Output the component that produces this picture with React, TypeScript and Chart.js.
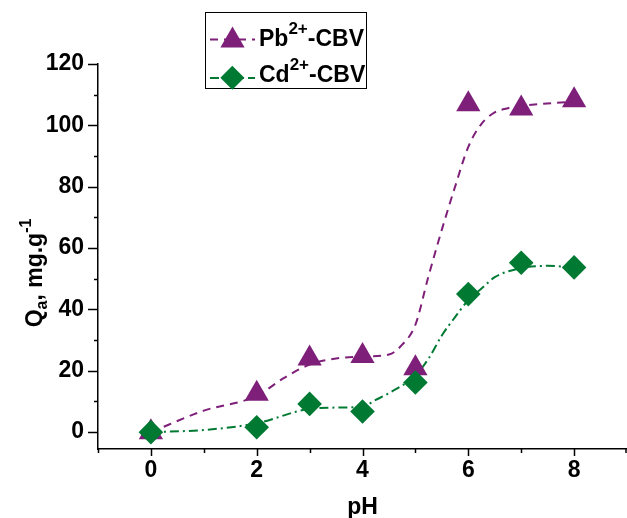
import React, { useEffect, useRef } from 'react';
import { Chart, registerables } from 'chart.js';

Chart.register(...registerables);

// ---- data ----
const phValues = [0, 2, 3, 4, 5, 6, 7, 8];
const pbValues = [0, 12.5, 24, 24.8, 20.8, 106.9, 105.5, 108.2];
const cdValues = [0, 1.6, 9.2, 6.7, 16.2, 45, 55.2, 53.7];

// smoothed guide curves as drawn in the reference
const pbCurveX = [0, 1, 2, 2.5, 3, 3.5, 4, 4.5, 4.75, 5, 5.25, 5.5, 5.75, 6, 6.25, 6.5, 6.75, 7, 8];
const pbCurveY = [0, 7, 11.8, 17.5, 22, 24, 24.6, 25.3, 28.5, 35, 51, 66, 80, 93, 100.5, 104.2, 105.6, 106.3, 107.8];
const cdCurveX = [0, 1, 2, 3, 3.5, 4, 4.25, 4.5, 5, 5.25, 5.5, 5.75, 6, 6.25, 6.5, 7, 7.5, 8];
const cdCurveY = [0, 0.7, 2.9, 7.6, 8, 8.3, 10.5, 12.7, 18.5, 24, 31.5, 37.5, 43, 46.8, 50.5, 53.5, 54.2, 53.7];

// axis ticks
const xTickValues = [-1, 0, 1, 2, 3, 4, 5, 6, 7, 8, 9];
const xLabelledTicks = [0, 2, 4, 6, 8];
const yTickValues = [0, 10, 20, 30, 40, 50, 60, 70, 80, 90, 100, 110, 120];
const yLabelledTicks = [0, 20, 40, 60, 80, 100, 120];

const seriesIons = ['Pb', 'Cd'];
const ionCharge = '2+';
const seriesSuffix = '-CBV';
const xTitle = 'pH';
const yTitleParts = ['Q', 'a', ', mg.g', '-1'];

const PURPLE = '#7E1F79';
const GREEN = '#007A33';
const FONT = "'Liberation Sans', Arial, sans-serif";
const PB_DASH = [8, 6];
const CD_DASH = [9, 4, 2, 4];

function toPoints(xs: number[], ys: number[]) {
  return xs.map((x, i) => ({ x, y: ys[i] }));
}

type Part = { text: string; size: number; dy: number };

function richWidth(ctx: CanvasRenderingContext2D, parts: Part[]) {
  let w = 0;
  for (const p of parts) {
    ctx.font = `bold ${p.size}px ${FONT}`;
    w += ctx.measureText(p.text).width;
  }
  return w;
}

function drawRich(ctx: CanvasRenderingContext2D, parts: Part[], x: number, y: number) {
  let cx = x;
  for (const p of parts) {
    ctx.font = `bold ${p.size}px ${FONT}`;
    ctx.fillText(p.text, cx, y + p.dy);
    cx += ctx.measureText(p.text).width;
  }
}

function triangle(ctx: CanvasRenderingContext2D, x: number, y: number, r: number) {
  ctx.beginPath();
  ctx.moveTo(x, y - r);
  ctx.lineTo(x + r * Math.sin((2 * Math.PI) / 3), y + r / 2);
  ctx.lineTo(x - r * Math.sin((2 * Math.PI) / 3), y + r / 2);
  ctx.closePath();
  ctx.fill();
}

function diamond(ctx: CanvasRenderingContext2D, x: number, y: number, r: number) {
  ctx.beginPath();
  ctx.moveTo(x - r, y);
  ctx.lineTo(x, y - r);
  ctx.lineTo(x + r, y);
  ctx.lineTo(x, y + r);
  ctx.closePath();
  ctx.fill();
}

const decorPlugin = {
  id: 'decor',
  afterDraw(chart: any) {
    const ctx: CanvasRenderingContext2D = chart.ctx;
    const xs = chart.scales.x;
    const ys = chart.scales.y;
    const area = chart.chartArea;
    ctx.save();
    ctx.strokeStyle = '#000';
    ctx.lineWidth = 1.5;
    ctx.fillStyle = '#000';
    // x tick marks (major at labelled, minor otherwise) and labels
    for (const t of xs.ticks) {
      const v = t.value;
      const px = Math.min(Math.round(xs.getPixelForValue(v)) + 0.5, area.right - 1);
      const major = xLabelledTicks.includes(v);
      ctx.beginPath();
      ctx.moveTo(px, area.bottom);
      ctx.lineTo(px, area.bottom + (major ? 7 : 4));
      ctx.stroke();
      if (major) {
        ctx.font = `bold 23px ${FONT}`;
        ctx.textAlign = 'center';
        ctx.textBaseline = 'alphabetic';
        ctx.fillText(String(v), xs.getPixelForValue(v), 477);
      }
    }
    // y tick marks
    for (const t of ys.ticks) {
      const v = t.value;
      const py = Math.round(ys.getPixelForValue(v)) + 0.5;
      const len = yLabelledTicks.includes(v) ? 10 : 4;
      ctx.beginPath();
      ctx.moveTo(area.left, py);
      ctx.lineTo(area.left - len, py);
      ctx.stroke();
    }

    ctx.textBaseline = 'alphabetic';
    ctx.textAlign = 'left';

    // x title
    const xt: Part[] = [{ text: xTitle, size: 23, dy: 0 }];
    const xw = richWidth(ctx, xt);
    drawRich(ctx, xt, (area.left + area.right) / 2 - xw / 2, 514);

    // y title (rotated)
    const yt: Part[] = [
      { text: yTitleParts[0], size: 23, dy: 0 },
      { text: yTitleParts[1], size: 16, dy: 5 },
      { text: yTitleParts[2], size: 23, dy: 0 },
      { text: yTitleParts[3], size: 16, dy: -11 },
    ];
    const yw = richWidth(ctx, yt);
    ctx.save();
    ctx.translate(41.5, 273);
    ctx.rotate(-Math.PI / 2);
    drawRich(ctx, yt, -yw / 2, 0);
    ctx.restore();

    // legend
    const bx = 205, by = 12, bw = 162, bh = 77;
    ctx.fillStyle = '#fff';
    ctx.fillRect(bx, by, bw, bh);
    ctx.lineWidth = 1;
    ctx.strokeStyle = '#000';
    ctx.strokeRect(bx + 0.5, by + 0.5, bw - 1, bh - 1);
    const rows = [
      { color: PURPLE, dash: PB_DASH, y: 40.5, line: 39.5, base: 45.5, kind: 'tri' },
      { color: GREEN, dash: CD_DASH, y: 77.7, line: 78, base: 82, kind: 'dia' },
    ];
    rows.forEach((row, i) => {
      ctx.save();
      ctx.strokeStyle = row.color;
      ctx.lineWidth = 2;
      ctx.setLineDash(row.dash);
      ctx.beginPath();
      ctx.moveTo(210, row.line);
      ctx.lineTo(255, row.line);
      ctx.stroke();
      ctx.restore();
      ctx.fillStyle = row.color;
      if (row.kind === 'tri') triangle(ctx, 232.5, row.y, 14);
      else diamond(ctx, 232.3, row.y, 12);
      ctx.fillStyle = '#000';
      const parts: Part[] = [
        { text: seriesIons[i], size: 23, dy: 0 },
        { text: ionCharge, size: 17, dy: -12 },
        { text: seriesSuffix, size: 23, dy: 0 },
      ];
      drawRich(ctx, parts, 259, row.base);
    });
    ctx.restore();
  },
};

export default function App() {
  const ref = useRef<HTMLCanvasElement | null>(null);
  useEffect(() => {
    if (!ref.current) return;
    const tickFont = { family: FONT, size: 23, weight: 'bold' as const };
    const chart = new Chart(ref.current, {
      type: 'scatter',
      data: {
        datasets: [
          {
            label: 'Cd2+-CBV',
            data: toPoints(phValues, cdValues),
            showLine: false,
            pointStyle: 'rectRot',
            pointRadius: 12.3,
            pointHoverRadius: 12.3,
            backgroundColor: GREEN,
            borderColor: GREEN,
            borderWidth: 0,
          },
          {
            label: 'Pb2+-CBV',
            data: toPoints(phValues, pbValues),
            showLine: false,
            pointStyle: 'triangle',
            pointRadius: 14,
            pointHoverRadius: 14,
            backgroundColor: PURPLE,
            borderColor: PURPLE,
            borderWidth: 0,
          },
          {
            label: 'Cd curve',
            data: toPoints(cdCurveX, cdCurveY),
            showLine: true,
            borderColor: GREEN,
            borderWidth: 2,
            borderDash: CD_DASH,
            pointRadius: 0,
            cubicInterpolationMode: 'monotone',
            fill: false,
          },
          {
            label: 'Pb curve',
            data: toPoints(pbCurveX, pbCurveY),
            showLine: true,
            borderColor: PURPLE,
            borderWidth: 2,
            borderDash: PB_DASH,
            pointRadius: 0,
            cubicInterpolationMode: 'monotone',
            fill: false,
          },
        ],
      },
      options: {
        animation: false,
        responsive: false,
        devicePixelRatio: 1,
        layout: { autoPadding: false, padding: { top: 64, right: 0, left: 0, bottom: 0 } },
        plugins: { legend: { display: false }, tooltip: { enabled: false } },
        scales: {
          x: {
            type: 'linear',
            min: -1,
            max: 9,
            grid: { display: false, drawTicks: false, tickLength: 0 },
            border: { display: true, color: '#000', width: 1.5 },
            afterBuildTicks: (s: any) => {
              s.ticks = xTickValues.map((v) => ({ value: v }));
            },
            ticks: { display: false },
            afterFit: (s: any) => {
              s.height = 69;
            },
          },
          y: {
            type: 'linear',
            min: -5.5,
            max: 120,
            grid: { display: false, drawTicks: false, tickLength: 0 },
            border: { display: true, color: '#000', width: 1.5 },
            afterBuildTicks: (s: any) => {
              s.ticks = yTickValues.map((v) => ({ value: v }));
            },
            ticks: {
              autoSkip: false,
              padding: 14,
              color: '#000',
              font: tickFont,
              callback: (v: any) => (yLabelledTicks.includes(Number(v)) ? String(v) : ''),
            },
            afterFit: (s: any) => {
              s.width = 98;
            },
          },
        },
      },
      plugins: [decorPlugin],
    });
    return () => chart.destroy();
  }, []);
  return (
    <div style={{ position: 'fixed', left: 0, top: 0, width: 627, height: 518, background: '#fff' }}>
      <canvas ref={ref} width={627} height={518} style={{ display: 'block' }} />
    </div>
  );
}
